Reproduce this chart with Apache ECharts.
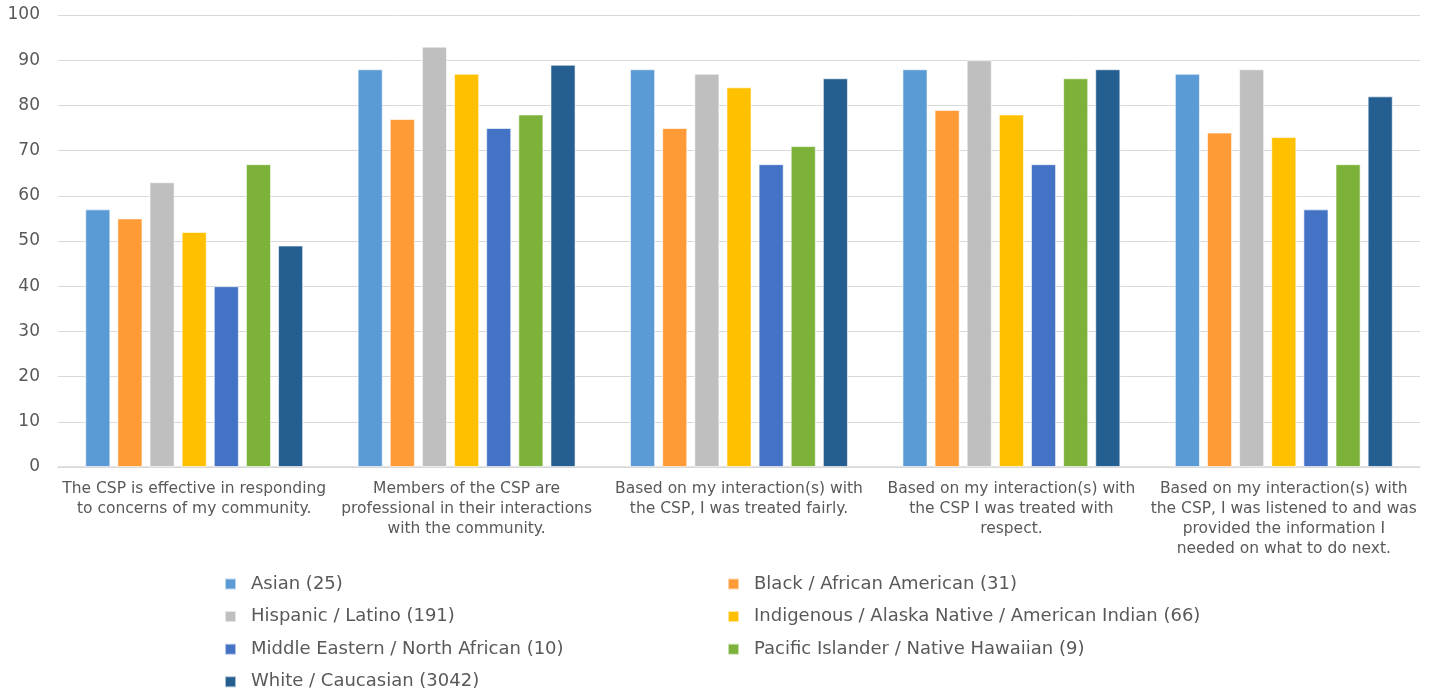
<!DOCTYPE html>
<html>
<head>
<meta charset="utf-8">
<script src="https://cdn.jsdelivr.net/npm/echarts@6/dist/echarts.min.js"></script>
<style>
html,body{margin:0;padding:0;background:#fff;}
#c{width:1437px;height:693px;}
</style>
</head>
<body>
<div id="c"></div>
<script>
const categories = [
  "The CSP is effective in responding\nto concerns of my community.",
  "Members of the CSP are\nprofessional in their interactions\nwith the community.",
  "Based on my interaction(s) with\nthe CSP, I was treated fairly.",
  "Based on my interaction(s) with\nthe CSP I was treated with\nrespect.",
  "Based on my interaction(s) with\nthe CSP, I was listened to and was\nprovided the information I\nneeded on what to do next."
];
const seriesNames = [
  "Asian (25)",
  "Black / African American (31)",
  "Hispanic / Latino (191)",
  "Indigenous / Alaska Native / American Indian (66)",
  "Middle Eastern / North African (10)",
  "Pacific Islander / Native Hawaiian (9)",
  "White / Caucasian (3042)"
];
const asian = [57, 88, 88, 88, 87];
const black = [55, 77, 75, 79, 74];
const hispanic = [63, 93, 87, 90, 88];
const indigenous = [52, 87, 84, 78, 73];
const middleEastern = [40, 75, 67, 67, 57];
const pacific = [67, 78, 71, 86, 67];
const white = [49, 89, 86, 88, 82];
const yTicks = [0, 10, 20, 30, 40, 50, 60, 70, 80, 90, 100];

const values = [asian, black, hispanic, indigenous, middleEastern, pacific, white];
const colors = ["#5B9BD5", "#FF9B37", "#BFBFBF", "#FFC000", "#4472C4", "#7CB23A", "#255E91"];

const chart = echarts.init(document.getElementById('c'), null, {renderer: 'canvas'});
const series = seriesNames.map((n, i) => ({
  name: n,
  type: 'bar',
  data: values[i],
  barGap: '28%',
  barCategoryGap: '20%',
  itemStyle: {color: colors[i], borderColor: 'rgba(255,255,255,0.6)', borderWidth: 1},
  emphasis: {disabled: true}
}));
const legendText = {color: '#595959', fontSize: 18, fontFamily: 'DejaVu Sans', lineHeight: 20, padding: [0, 0, 0, 10]};
chart.setOption({
  animation: false,
  backgroundColor: '#ffffff',
  color: colors,
  grid: {left: 58, right: 17, top: 15, bottom: 226, containLabel: false},
  xAxis: {
    type: 'category',
    data: categories,
    axisLine: {lineStyle: {color: '#D9D9D9', width: 1.5}},
    axisTick: {show: false},
    axisLabel: {color: '#595959', fontSize: 15.5, fontFamily: 'DejaVu Sans', lineHeight: 20, margin: 12, interval: 0}
  },
  yAxis: {
    type: 'value',
    min: yTicks[0],
    max: yTicks[yTicks.length - 1],
    interval: 10,
    axisLine: {show: false},
    axisTick: {show: false},
    splitLine: {lineStyle: {color: '#D9D9D9', width: 1}},
    axisLabel: {color: '#595959', fontSize: 17, fontFamily: 'DejaVu Sans', margin: 18}
  },
  legend: [
    {
      data: [seriesNames[0], seriesNames[2], seriesNames[4], seriesNames[6]],
      orient: 'vertical', left: 224, top: 574, height: 124, padding: 0,
      itemWidth: 11, itemHeight: 11, itemGap: 12.6, icon: 'rect',
      textStyle: legendText, selectedMode: false
    },
    {
      data: [seriesNames[1], seriesNames[3], seriesNames[5]],
      orient: 'vertical', left: 727, top: 574, height: 124, padding: 0,
      itemWidth: 11, itemHeight: 11, itemGap: 12.6, icon: 'rect',
      textStyle: legendText, selectedMode: false
    }
  ],
  series: series
});
</script>
</body>
</html>
